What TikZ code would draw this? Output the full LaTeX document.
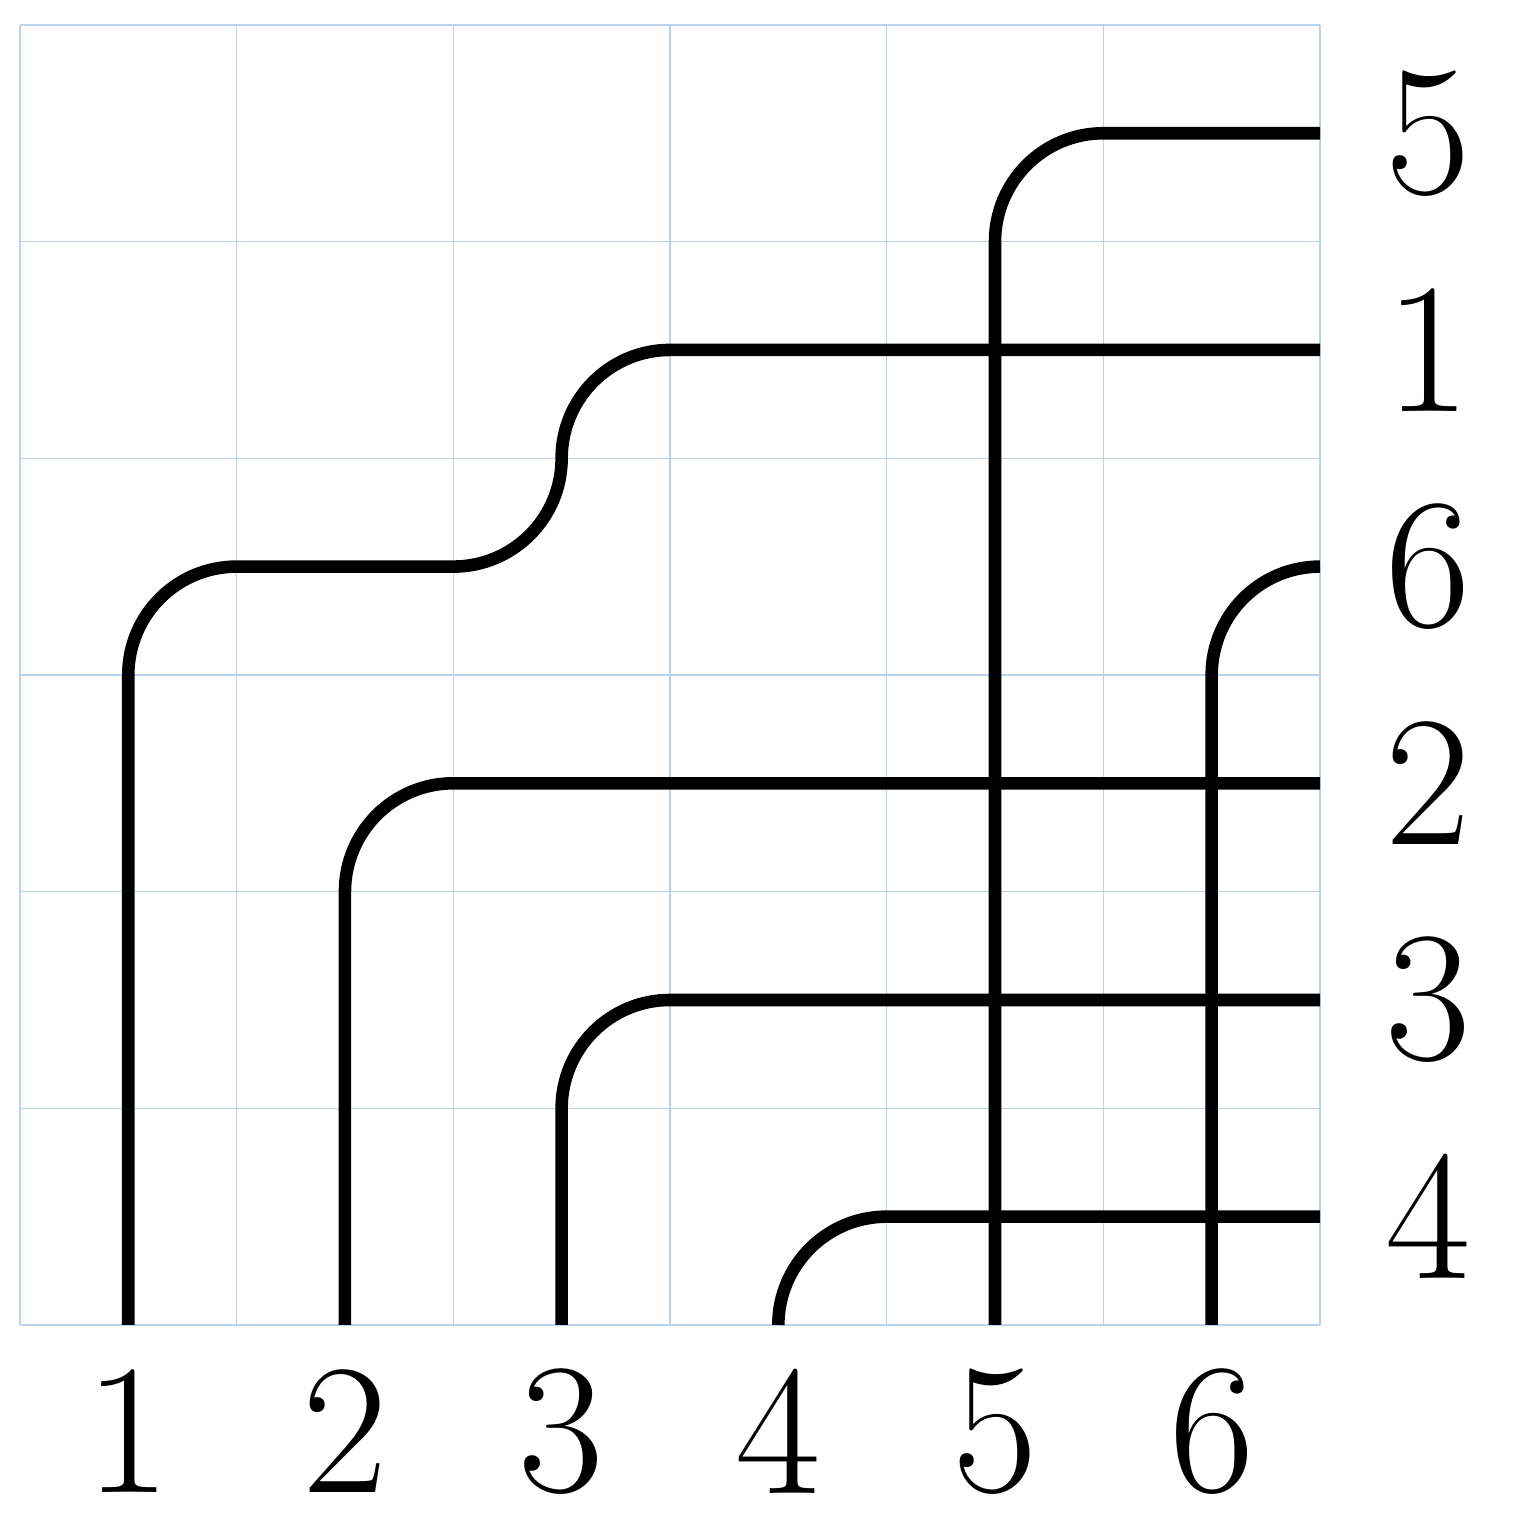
\documentclass[tikz,border=0pt]{standalone}
\definecolor{gridblue}{RGB}{186,210,240}
\tikzset{
  gridline/.style={draw=gridblue, line width=0.15pt},
  pipe/.style={draw=black, line width=1.65pt, line cap=butt, line join=round},
  lab/.style={font=\fontsize{24.4}{29}\selectfont, inner sep=0pt}
}
\begin{document}
\begin{tikzpicture}[x=1cm,y=1cm]
\useasboundingbox (-0.092,-0.9) rectangle (6.923,6.115);
\draw[gridline] (0,0) grid (6,6);
% pipe 1
\draw[pipe] (0.5,0) -- (0.5,3) arc[start angle=180,end angle=90,radius=0.5] -- (2,3.5)
  arc[start angle=-90,end angle=0,radius=0.5] arc[start angle=180,end angle=90,radius=0.5] -- (6,4.5);
% pipe 2
\draw[pipe] (1.5,0) -- (1.5,2) arc[start angle=180,end angle=90,radius=0.5] -- (6,2.5);
% pipe 3
\draw[pipe] (2.5,0) -- (2.5,1) arc[start angle=180,end angle=90,radius=0.5] -- (6,1.5);
% pipe 4
\draw[pipe] (3.5,0) arc[start angle=180,end angle=90,radius=0.5] -- (6,0.5);
% pipe 5
\draw[pipe] (4.5,0) -- (4.5,5) arc[start angle=180,end angle=90,radius=0.5] -- (6,5.5);
% pipe 6
\draw[pipe] (5.5,0) -- (5.5,3) arc[start angle=180,end angle=90,radius=0.5];
% bottom labels
\foreach \i in {1,...,6} \node[lab] (b\i) at (\i-0.5,-0.49) {\i};
% right labels
\node[lab] (r5) at (6.5,5.5) {5};
\node[lab] (r1) at (6.5,4.5) {1};
\node[lab] (r6) at (6.5,3.5) {6};
\node[lab] (r2) at (6.5,2.5) {2};
\node[lab] (r3) at (6.5,1.5) {3};
\node[lab] (r4) at (6.5,0.5) {4};
\end{tikzpicture}
\end{document}
